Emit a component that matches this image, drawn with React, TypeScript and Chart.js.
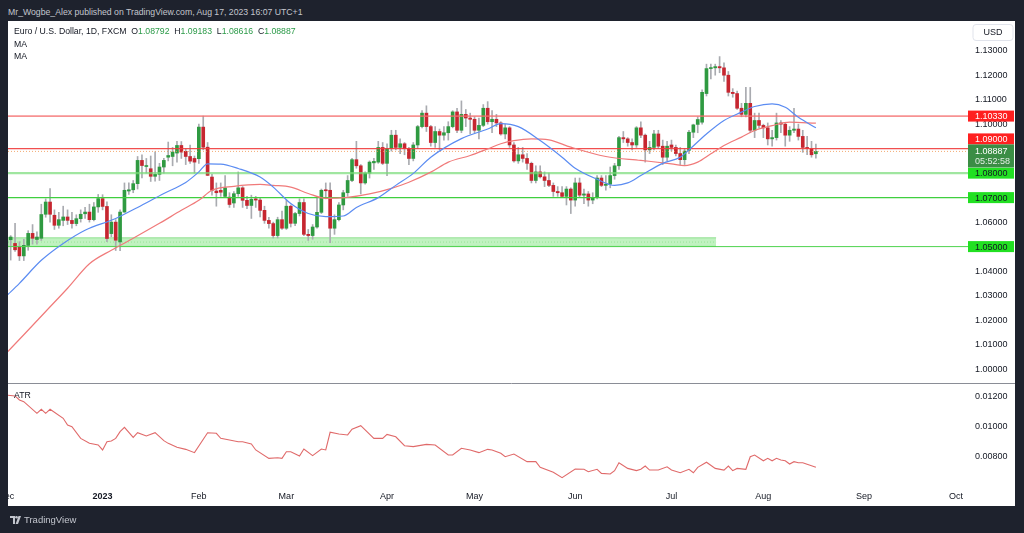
import React, { useEffect, useRef } from 'react';
import { Chart, registerables } from 'chart.js';

Chart.register(...registerables);

// ---- Daily candles, index 0 = 1 Dec 2022 (weekdays only), last = 17 Aug 2023 ----
const opens = [
  1.0405, 1.0528, 1.0513, 1.0498, 1.0462, 1.0505, 1.0554, 1.0529, 1.0534, 1.0632,
  1.0682, 1.0628, 1.0587, 1.0607, 1.0621, 1.0607, 1.0594, 1.0614, 1.0634, 1.0641,
  1.0610, 1.0662, 1.0696, 1.0664, 1.0553, 1.0600, 1.0519, 1.0641, 1.0727, 1.0732,
  1.0757, 1.0852, 1.0827, 1.0818, 1.0787, 1.0795, 1.0825, 1.0865, 1.0868, 1.0882,
  1.0913, 1.0889, 1.0868, 1.0860, 1.0859, 1.0988, 1.0906, 1.0784, 1.0727, 1.0730,
  1.0705, 1.0702, 1.0678, 1.0716, 1.0740, 1.0689, 1.0668, 1.0695, 1.0690, 1.0648,
  1.0607, 1.0594, 1.0545, 1.0610, 1.0575, 1.0665, 1.0595, 1.0635, 1.0680, 1.0550,
  1.0545, 1.0580, 1.0640, 1.0732, 1.0730, 1.0575, 1.0610, 1.0670, 1.0720, 1.0770,
  1.0855, 1.0830, 1.0760, 1.0800, 1.0842, 1.0845, 1.0905, 1.0840, 1.0900, 1.0955,
  1.0905, 1.0920, 1.0900, 1.0860, 1.0915, 1.0990, 1.1045, 1.0990, 1.0925, 1.0970,
  1.0955, 1.0965, 1.0990, 1.1050, 1.0975, 1.1040, 1.1025, 1.1020, 1.0975, 1.0995,
  1.1065, 1.1010, 1.1020, 1.1005, 1.0960, 1.0985, 1.0915, 1.0850, 1.0875, 1.0860,
  1.0840, 1.0770, 1.0805, 1.0785, 1.0770, 1.0750, 1.0725, 1.0720, 1.0705, 1.0735,
  1.0690, 1.0760, 1.0710, 1.0715, 1.0690, 1.0700, 1.0780, 1.0750, 1.0755, 1.0790,
  1.0830, 1.0945, 1.0940, 1.0925, 1.0915, 1.0985, 1.0955, 1.0895, 1.0905, 1.0960,
  1.0910, 1.0865, 1.0915, 1.0905, 1.0880, 1.0855, 1.0893, 1.0967, 1.0999, 1.1008,
  1.1125, 1.1227, 1.1230, 1.1235, 1.1230, 1.1200, 1.1130, 1.1125, 1.1065, 1.1040,
  1.1085, 1.0975, 1.1015, 1.0995, 1.0985, 1.0940, 1.0945, 1.1005, 1.1000, 1.0955,
  1.0975, 1.0980, 1.0950, 1.0905, 1.0900, 1.08792,
];
const highs = [
  1.0535, 1.0545, 1.0595, 1.0520, 1.0530, 1.0565, 1.0590, 1.0560, 1.0673, 1.0695,
  1.0737, 1.0650, 1.0640, 1.0665, 1.0650, 1.0640, 1.0630, 1.0650, 1.0660, 1.0673,
  1.0680, 1.0713, 1.0712, 1.0683, 1.0630, 1.0610, 1.0650, 1.0760, 1.0760, 1.0770,
  1.0868, 1.0875, 1.0860, 1.0870, 1.0887, 1.0840, 1.0860, 1.0927, 1.0905, 1.0930,
  1.0929, 1.0900, 1.0915, 1.0870, 1.1000, 1.1033, 1.0925, 1.0795, 1.0760, 1.0760,
  1.0790, 1.0720, 1.0725, 1.0805, 1.0745, 1.0705, 1.0710, 1.0705, 1.0700, 1.0665,
  1.0620, 1.0600, 1.0620, 1.0645, 1.0690, 1.0670, 1.0640, 1.0695, 1.0695, 1.0570,
  1.0590, 1.0700, 1.0735, 1.0760, 1.0760, 1.0630, 1.0680, 1.0730, 1.0790, 1.0860,
  1.0930, 1.0835, 1.0805, 1.0850, 1.0860, 1.0930, 1.0925, 1.0920, 1.0975, 1.0975,
  1.0940, 1.0925, 1.0905, 1.0925, 1.0995, 1.1055, 1.1075, 1.0995, 1.0990, 1.0980,
  1.0990, 1.1010, 1.1055, 1.1065, 1.1095, 1.1060, 1.1045, 1.1030, 1.1025, 1.1080,
  1.1092, 1.1055, 1.1040, 1.1010, 1.1000, 1.0990, 1.0925, 1.0905, 1.0905, 1.0880,
  1.0845, 1.0830, 1.0830, 1.0805, 1.0800, 1.0760, 1.0745, 1.0745, 1.0745, 1.0740,
  1.0780, 1.0780, 1.0735, 1.0725, 1.0720, 1.0790, 1.0790, 1.0790, 1.0825, 1.0840,
  1.0950, 1.0970, 1.0945, 1.0940, 1.0990, 1.1010, 1.0960, 1.0930, 1.0975, 1.0975,
  1.0935, 1.0930, 1.0935, 1.0915, 1.0905, 1.0900, 1.0975, 1.1000, 1.1030, 1.1140,
  1.1245, 1.1245, 1.1245, 1.1276, 1.1250, 1.1215, 1.1145, 1.1135, 1.1085, 1.1150,
  1.1150, 1.1045, 1.1045, 1.1000, 1.1005, 1.0975, 1.1045, 1.1015, 1.1005, 1.0990,
  1.1065, 1.1000, 1.0975, 1.0950, 1.0930, 1.09183,
];
const lows = [
  1.0395, 1.0445, 1.0480, 1.0443, 1.0443, 1.0485, 1.0510, 1.0510, 1.0525, 1.0620,
  1.0600, 1.0570, 1.0575, 1.0585, 1.0590, 1.0575, 1.0585, 1.0600, 1.0615, 1.0600,
  1.0605, 1.0640, 1.0650, 1.0520, 1.0540, 1.0484, 1.0483, 1.0640, 1.0713, 1.0720,
  1.0735, 1.0780, 1.0800, 1.0766, 1.0767, 1.0770, 1.0800, 1.0850, 1.0830, 1.0845,
  1.0860, 1.0835, 1.0840, 1.0800, 1.0840, 1.0895, 1.0790, 1.0710, 1.0665, 1.0705,
  1.0700, 1.0660, 1.0660, 1.0705, 1.0660, 1.0655, 1.0615, 1.0660, 1.0621, 1.0595,
  1.0575, 1.0535, 1.0535, 1.0570, 1.0570, 1.0580, 1.0585, 1.0625, 1.0545, 1.0525,
  1.0530, 1.0575, 1.0635, 1.0695, 1.0516, 1.0550, 1.0605, 1.0650, 1.0705, 1.0765,
  1.0820, 1.0715, 1.0755, 1.0780, 1.0815, 1.0840, 1.0835, 1.0790, 1.0890, 1.0895,
  1.0880, 1.0875, 1.0835, 1.0850, 1.0900, 1.0985, 1.0970, 1.0910, 1.0905, 1.0895,
  1.0935, 1.0935, 1.0985, 1.0965, 1.0965, 1.0990, 1.0960, 1.0965, 1.0940, 1.0990,
  1.1000, 1.0965, 1.0990, 1.0955, 1.0940, 1.0905, 1.0845, 1.0840, 1.0845, 1.0815,
  1.0760, 1.0760, 1.0780, 1.0745, 1.0745, 1.0705, 1.0705, 1.0700, 1.0670, 1.0635,
  1.0665, 1.0700, 1.0675, 1.0665, 1.0675, 1.0695, 1.0745, 1.0730, 1.0740, 1.0775,
  1.0815, 1.0925, 1.0910, 1.0895, 1.0905, 1.0945, 1.0845, 1.0880, 1.0895, 1.0900,
  1.0835, 1.0850, 1.0890, 1.0870, 1.0835, 1.0835, 1.0880, 1.0945, 1.0965, 1.1000,
  1.1115, 1.1185, 1.1200, 1.1210, 1.1175, 1.1115, 1.1110, 1.1060, 1.1030, 1.1030,
  1.0965, 1.0945, 1.0985, 1.0945, 1.0915, 1.0910, 1.0935, 1.0965, 1.0910, 1.0930,
  1.0965, 1.0935, 1.0885, 1.0875, 1.0865, 1.08616,
];
const closes = [
  1.0525, 1.0539, 1.0487, 1.0462, 1.0505, 1.0554, 1.0534, 1.0539, 1.0631, 1.0682,
  1.0632, 1.0587, 1.0610, 1.0621, 1.0607, 1.0594, 1.0614, 1.0632, 1.0641, 1.0610,
  1.0662, 1.0696, 1.0664, 1.0533, 1.0600, 1.0526, 1.0641, 1.0730, 1.0732, 1.0757,
  1.0852, 1.0831, 1.0829, 1.0787, 1.0795, 1.0825, 1.0852, 1.0872, 1.0886, 1.0913,
  1.0886, 1.0868, 1.0849, 1.0845, 1.0988, 1.0906, 1.0791, 1.0730, 1.0720, 1.0722,
  1.0740, 1.0672, 1.0716, 1.0740, 1.0689, 1.0668, 1.0693, 1.0690, 1.0648, 1.0607,
  1.0594, 1.0545, 1.0610, 1.0575, 1.0665, 1.0595, 1.0635, 1.0680, 1.0550, 1.0545,
  1.0580, 1.0640, 1.0730, 1.0728, 1.0575, 1.0610, 1.0670, 1.0720, 1.0770, 1.0855,
  1.0830, 1.0760, 1.0800, 1.0845, 1.0848, 1.0905, 1.0840, 1.0900, 1.0955, 1.0905,
  1.0920, 1.0900, 1.0860, 1.0915, 1.0990, 1.1045, 1.0990, 1.0925, 1.0970, 1.0955,
  1.0965, 1.0990, 1.1050, 1.0975, 1.1040, 1.1025, 1.1020, 1.0975, 1.0995, 1.1065,
  1.1010, 1.1020, 1.1005, 1.0960, 1.0985, 1.0915, 1.0850, 1.0875, 1.0860, 1.0840,
  1.0770, 1.0805, 1.0785, 1.0770, 1.0750, 1.0725, 1.0720, 1.0705, 1.0735, 1.0690,
  1.0760, 1.0710, 1.0715, 1.0690, 1.0700, 1.0780, 1.0750, 1.0755, 1.0790, 1.0830,
  1.0945, 1.0940, 1.0925, 1.0915, 1.0985, 1.0955, 1.0895, 1.0905, 1.0960, 1.0910,
  1.0865, 1.0910, 1.0905, 1.0880, 1.0855, 1.0890, 1.0967, 1.0997, 1.1019, 1.1130,
  1.1227, 1.1230, 1.1235, 1.1230, 1.1200, 1.1130, 1.1125, 1.1065, 1.1040, 1.1085,
  1.0975, 1.1015, 1.0995, 1.0985, 1.0940, 1.0945, 1.1005, 1.1000, 1.0955, 1.0975,
  1.0980, 1.0950, 1.0905, 1.0900, 1.0875, 1.08887,
];

// ---- Moving averages (at bar indices) ----
const maFastIdx = [0, 3, 8, 13, 18, 25, 30, 36, 41, 44, 46, 49, 53, 58, 61, 65, 69, 73, 77, 80, 85, 89, 93, 97, 104, 110, 113, 117, 122, 127, 130, 135, 139, 142, 145, 150, 154, 156, 160, 164, 168, 171, 175, 178, 181, 185];
const maFastVal = [1.0298, 1.0350, 1.0444, 1.0513, 1.0567, 1.0615, 1.0660, 1.0717, 1.0762, 1.0805, 1.0838, 1.0837, 1.0819, 1.0784, 1.0743, 1.0676, 1.0635, 1.0622, 1.0625, 1.0660, 1.0700, 1.0750, 1.0799, 1.0865, 1.0941, 1.0980, 1.1002, 1.0990, 1.0933, 1.0865, 1.0820, 1.0775, 1.0750, 1.0760, 1.0790, 1.0840, 1.0865, 1.0895, 1.0960, 1.1015, 1.1049, 1.1072, 1.1083, 1.1069, 1.1028, 1.0985];
const maSlowIdx = [0, 4, 9, 14, 19, 24, 29, 35, 40, 44, 47, 52, 58, 61, 65, 69, 73, 78, 83, 88, 92, 97, 101, 106, 110, 113, 116, 120, 124, 129, 137, 145, 152, 155, 158, 161, 164, 168, 171, 175, 179, 185];
const maSlowVal = [1.0065, 1.0140, 1.0235, 1.0330, 1.0430, 1.0485, 1.0534, 1.0595, 1.0648, 1.0689, 1.0730, 1.0746, 1.0754, 1.0750, 1.0743, 1.0717, 1.0697, 1.0701, 1.0715, 1.0738, 1.0763, 1.0804, 1.0845, 1.0872, 1.0899, 1.0920, 1.0933, 1.0940, 1.0936, 1.0906, 1.0868, 1.0852, 1.0838, 1.0831, 1.0845, 1.0879, 1.0913, 1.0947, 1.0974, 1.0994, 1.1008, 1.1004];

// ---- ATR ----
const atrIdx = [0, 2, 3, 4, 7, 8, 9, 10, 13, 14, 15, 17, 19, 21, 22, 23, 24, 25, 26, 27, 29, 30, 32, 34, 36, 37, 39, 41, 43, 46, 48, 49, 51, 53, 54, 56, 57, 60, 62, 63, 64, 65, 67, 68, 70, 72, 73, 74, 76, 78, 79, 81, 84, 86, 87, 89, 91, 93, 96, 98, 101, 102, 104, 106, 108, 110, 111, 113, 114, 116, 119, 121, 122, 125, 127, 130, 132, 133, 135, 136, 138, 139, 140, 142, 144, 145, 146, 147, 149, 151, 152, 154, 156, 157, 158, 160, 162, 164, 165, 166, 167, 169, 170, 171, 173, 174, 175, 176, 177, 178, 179, 180, 181, 182, 185];
const atrVal = [0.01213, 0.01207, 0.0118, 0.01169, 0.01091, 0.01118, 0.01091, 0.01118, 0.01058, 0.01013, 0.01002, 0.00924, 0.00891, 0.0088, 0.00847, 0.00902, 0.00907, 0.00924, 0.00969, 0.00998, 0.00931, 0.00962, 0.0094, 0.00962, 0.00909, 0.00891, 0.00865, 0.00851, 0.00829, 0.00962, 0.00958, 0.00925, 0.00913, 0.00902, 0.00902, 0.00887, 0.00847, 0.00791, 0.00795, 0.00791, 0.00835, 0.00835, 0.00807, 0.00853, 0.00809, 0.00853, 0.00847, 0.00965, 0.00953, 0.00947, 0.00985, 0.01009, 0.00924, 0.00924, 0.00951, 0.00935, 0.00875, 0.00869, 0.00884, 0.0088, 0.00813, 0.00813, 0.00858, 0.00847, 0.00829, 0.00851, 0.00847, 0.00825, 0.00802, 0.0082, 0.00769, 0.00769, 0.00731, 0.00698, 0.00662, 0.0072, 0.00718, 0.00702, 0.00718, 0.00691, 0.00687, 0.00709, 0.00762, 0.00724, 0.00709, 0.00718, 0.0074, 0.00713, 0.00713, 0.00735, 0.00713, 0.00695, 0.00718, 0.00695, 0.00731, 0.00765, 0.00724, 0.00713, 0.0074, 0.00709, 0.00724, 0.00718, 0.00802, 0.00813, 0.00775, 0.00791, 0.00775, 0.00791, 0.0078, 0.00775, 0.00753, 0.00769, 0.00762, 0.00762, 0.00731];

// ---- Drawn levels ----
const levelValues = [1.1033, 1.09, 1.08, 1.07, 1.05];
const zoneTopValue = 1.0536;
const zoneBottomValue = 1.0501;
const zoneEndIdx = 162.2;
const lastPrice = 1.08887;
const countdownText = '05:52:58';

// ---- Axis ticks ----
const monthIdx = [0, 22, 44, 64, 87, 107, 130, 152, 173, 196, 217];
const monthLabels = ['Dec', '2023', 'Feb', 'Mar', 'Apr', 'May', 'Jun', 'Jul', 'Aug', 'Sep', 'Oct'];
const priceTicks = [1.0, 1.01, 1.02, 1.03, 1.04, 1.05, 1.06, 1.07, 1.08, 1.09, 1.1, 1.11, 1.12, 1.13];
const atrTicks = [0.008, 0.01, 0.012];

// ---- Styling / layout ----
const X_MIN = 0.388;
const X_MAX = 219.76;
const Y_MIN = 0.953049;
const Y_MAX = 1.142129;
const ATR_MIN = 0.0062;
const ATR_MAX = 0.0370667;
const FAMILY = '"Liberation Sans", Arial, sans-serif';
const FS = 9;
const HTML_FS = 8.7;
const TEXT = '#131722';
const UP = '#2f9a41';
const DOWN = '#c62630';
const WICK = '#a9abb0';
const BG = '#1e222d';
const LEVEL_STYLES = [
  { color: 'rgba(244,110,110,0.75)', width: 1.6 },
  { color: 'rgba(240,60,60,0.9)', width: 1.2 },
  { color: 'rgba(120,220,120,0.7)', width: 2.2 },
  { color: '#3fcf3f', width: 1.2 },
  { color: '#4fd34f', width: 1 },
];

function roundRect(ctx: CanvasRenderingContext2D, x: number, y: number, w: number, h: number, r: number) {
  ctx.beginPath();
  ctx.moveTo(x + r, y);
  ctx.lineTo(x + w - r, y);
  ctx.quadraticCurveTo(x + w, y, x + w, y + r);
  ctx.lineTo(x + w, y + h - r);
  ctx.quadraticCurveTo(x + w, y + h, x + w - r, y + h);
  ctx.lineTo(x + r, y + h);
  ctx.quadraticCurveTo(x, y + h, x, y + h - r);
  ctx.lineTo(x, y + r);
  ctx.quadraticCurveTo(x, y, x + r, y);
  ctx.closePath();
}

const overlayPlugin = {
  id: 'tvOverlay',
  afterDraw(chart: any) {
    const { ctx, chartArea, scales } = chart;
    const ys = scales.y;
    const ya = scales.yAtr;
    const xs = scales.x;
    const W = chart.width;
    const normal = `${FS}px ${FAMILY}`;
    const bold = `bold ${FS}px ${FAMILY}`;
    ctx.save();

    // pane separator
    ctx.strokeStyle = '#8a8d96';
    ctx.lineWidth = 1;
    ctx.beginPath();
    ctx.moveTo(0, 362.5);
    ctx.lineTo(W, 362.5);
    ctx.stroke();

    // ATR axis labels
    ctx.font = normal;
    ctx.fillStyle = TEXT;
    ctx.textAlign = 'left';
    ctx.textBaseline = 'middle';
    atrTicks.forEach((v) => ctx.fillText(v.toFixed(5), chartArea.right + 7, ya.getPixelForValue(v)));

    // time axis labels
    ctx.textAlign = 'center';
    monthIdx.forEach((m, k) => {
      ctx.font = monthLabels[k] === '2023' ? bold : normal;
      ctx.fillText(monthLabels[k], xs.getPixelForValue(m), chartArea.bottom + 13);
    });

    // USD box
    ctx.font = normal;
    roundRect(ctx, chartArea.right + 5, 3.5, 40, 16, 3);
    ctx.fillStyle = '#ffffff';
    ctx.fill();
    ctx.strokeStyle = '#e0e3eb';
    ctx.stroke();
    ctx.fillStyle = TEXT;
    ctx.fillText('USD', chartArea.right + 25, 12);

    // current price box
    const bx = chartArea.right;
    const bw = 46;
    const cy = ys.getPixelForValue(lastPrice);
    const curTop = cy - 7;
    const curBot = cy + 16;

    // level boxes
    ctx.textAlign = 'left';
    levelValues.forEach((v) => {
      let y = ys.getPixelForValue(v);
      const h = 11;
      if (y + h / 2 > curTop && y - h / 2 < curTop && v > lastPrice) y = curTop - h / 2;
      const above = v > lastPrice;
      ctx.fillStyle = above ? '#ff2020' : '#22e022';
      ctx.fillRect(bx, y - h / 2, bw, h);
      ctx.fillStyle = above ? '#ffffff' : TEXT;
      ctx.fillText(v.toFixed(5), bx + 7, y + 0.5);
    });

    ctx.fillStyle = '#3b8d45';
    ctx.fillRect(bx, curTop, bw, curBot - curTop);
    ctx.fillStyle = '#ffffff';
    ctx.fillText(lastPrice.toFixed(5), bx + 7, cy + 0.5);
    ctx.fillStyle = 'rgba(255,255,255,0.85)';
    ctx.fillText(countdownText, bx + 7, cy + 10);

    ctx.restore();
  },
};

function hline(value: number, from: number, to: number, color: string, width: number, order: number, dash?: number[]) {
  return {
    type: 'line' as const,
    data: [{ x: from, y: value }, { x: to, y: value }],
    borderColor: color,
    borderWidth: width,
    borderDash: dash || [],
    pointRadius: 0,
    fill: false,
    order,
    yAxisID: 'y',
  };
}

export default function App() {
  const canvasRef = useRef<HTMLCanvasElement>(null);

  useEffect(() => {
    const idx = closes.map((_, i) => i);
    const wickData = idx.map((i) => ({ x: i, y: [lows[i], highs[i]] }));
    const bodyData = idx.map((i) => ({ x: i, y: [opens[i], closes[i]] }));
    const bodyColors = idx.map((i) => (closes[i] >= opens[i] ? UP : DOWN));

    const datasets: any[] = [
      {
        type: 'line',
        data: maFastIdx.map((x, k) => ({ x, y: maFastVal[k] })),
        borderColor: '#5b8cf2',
        borderWidth: 1.2,
        pointRadius: 0,
        cubicInterpolationMode: 'monotone',
        order: 0,
        yAxisID: 'y',
      },
      {
        type: 'line',
        data: maSlowIdx.map((x, k) => ({ x, y: maSlowVal[k] })),
        borderColor: '#f07a7a',
        borderWidth: 1.2,
        pointRadius: 0,
        cubicInterpolationMode: 'monotone',
        order: 0,
        yAxisID: 'y',
      },
      ...levelValues.map((v, k) => hline(v, X_MIN, X_MAX, LEVEL_STYLES[k].color, LEVEL_STYLES[k].width, 1)),
      hline(lastPrice, X_MIN, X_MAX, 'rgba(240,150,80,0.8)', 1, 1, [1, 2]),
      {
        type: 'bar',
        data: bodyData,
        backgroundColor: bodyColors,
        barThickness: 3,
        minBarLength: 1,
        grouped: false,
        order: 2,
        yAxisID: 'y',
      },
      {
        type: 'bar',
        data: wickData,
        backgroundColor: WICK,
        barThickness: 1,
        grouped: false,
        order: 3,
        yAxisID: 'y',
      },
      {
        type: 'line',
        data: [{ x: X_MIN, y: zoneTopValue }, { x: zoneEndIdx, y: zoneTopValue }],
        borderColor: 'rgba(100,210,100,0.6)',
        borderWidth: 1,
        pointRadius: 0,
        fill: false,
        order: 4,
        yAxisID: 'y',
      },
      {
        type: 'line',
        data: [{ x: X_MIN, y: zoneBottomValue }, { x: zoneEndIdx, y: zoneBottomValue }],
        borderColor: 'rgba(100,210,100,0.6)',
        borderWidth: 1,
        pointRadius: 0,
        fill: '-1',
        backgroundColor: 'rgba(140,232,140,0.55)',
        order: 4,
        yAxisID: 'y',
      },
      hline((zoneTopValue + zoneBottomValue) / 2, X_MIN, zoneEndIdx, 'rgba(80,190,80,0.5)', 1, 4, [1, 2]),
      {
        type: 'line',
        data: atrIdx.map((x, k) => ({ x, y: atrVal[k] })),
        borderColor: '#e06a6a',
        borderWidth: 1.1,
        pointRadius: 0,
        order: 0,
        yAxisID: 'yAtr',
      },
    ];

    const chart = new Chart(canvasRef.current as HTMLCanvasElement, {
      type: 'bar',
      data: { datasets },
      plugins: [overlayPlugin],
      options: {
        animation: false,
        responsive: true,
        maintainAspectRatio: false,
        layout: { padding: { left: 0, right: 0, top: 0, bottom: 22 } },
        plugins: { legend: { display: false }, tooltip: { enabled: false }, title: { display: false } },
        scales: {
          x: {
            type: 'linear',
            min: X_MIN,
            max: X_MAX,
            display: false,
            offset: false,
          },
          y: {
            type: 'linear',
            position: 'right',
            min: Y_MIN,
            max: Y_MAX,
            grid: { display: false, drawTicks: false },
            border: { display: false },
            afterBuildTicks: (s: any) => {
              s.ticks = priceTicks.map((v) => ({ value: v }));
            },
            afterFit: (s: any) => {
              s.width = 47;
              s.paddingTop = 0;
              s.paddingBottom = 0;
            },
            ticks: {
              padding: 7,
              color: TEXT,
              font: { family: FAMILY, size: FS },
              callback: (v: any) => Number(v).toFixed(5),
            },
          },
          yAtr: {
            type: 'linear',
            position: 'right',
            min: ATR_MIN,
            max: ATR_MAX,
            display: false,
          },
        },
      } as any,
    });
    return () => chart.destroy();
  }, []);

  const font = `${HTML_FS}px ${FAMILY}`;
  const green = '#2b9a48';
  return (
    <div style={{ position: 'fixed', left: 0, top: 0, width: 1024, height: 533, background: BG, overflow: 'hidden', font }}>
      <div style={{ position: 'absolute', left: 8, top: 5, color: '#c3c6ce', whiteSpace: 'nowrap', lineHeight: '14px' }}>
        Mr_Wogbe_Alex published on TradingView.com, Aug 17, 2023 16:07 UTC+1
      </div>
      <div style={{ position: 'absolute', left: 8, top: 21, width: 1007, height: 485, background: '#ffffff' }}>
        <canvas ref={canvasRef} style={{ display: 'block' }} />
        <div style={{ position: 'absolute', left: 6, top: 4, color: TEXT, whiteSpace: 'nowrap', lineHeight: '13px', pointerEvents: 'none' }}>
          Euro / U.S. Dollar, 1D, FXCM&nbsp;&nbsp;O<span style={{ color: green }}>1.08792</span>&nbsp;&nbsp;H<span style={{ color: green }}>1.09183</span>&nbsp;&nbsp;L<span style={{ color: green }}>1.08616</span>&nbsp;&nbsp;C<span style={{ color: green }}>1.08887</span>
        </div>
        <div style={{ position: 'absolute', left: 6, top: 17, color: TEXT, lineHeight: '13px' }}>MA</div>
        <div style={{ position: 'absolute', left: 6, top: 29, color: TEXT, lineHeight: '13px' }}>MA</div>
        <div style={{ position: 'absolute', left: 6, top: 368, color: TEXT, lineHeight: '13px' }}>ATR</div>
      </div>
      <div style={{ position: 'absolute', left: 10, top: 513, display: 'flex', alignItems: 'center', color: '#c3c6ce', fontSize: 9.5 }}>
        <svg width="11" height="8" viewBox="0 0 11 8" style={{ marginRight: 3 }}>
          <path d="M0 0 H5 V8 H3 V2 H0 Z" fill="#c3c6ce" />
          <circle cx="6.5" cy="1.3" r="1.3" fill="#c3c6ce" />
          <path d="M8.5 0 H11 L8 8 H5.6 Z" fill="#c3c6ce" />
        </svg>
        <span style={{ lineHeight: '14px' }}>TradingView</span>
      </div>
    </div>
  );
}
